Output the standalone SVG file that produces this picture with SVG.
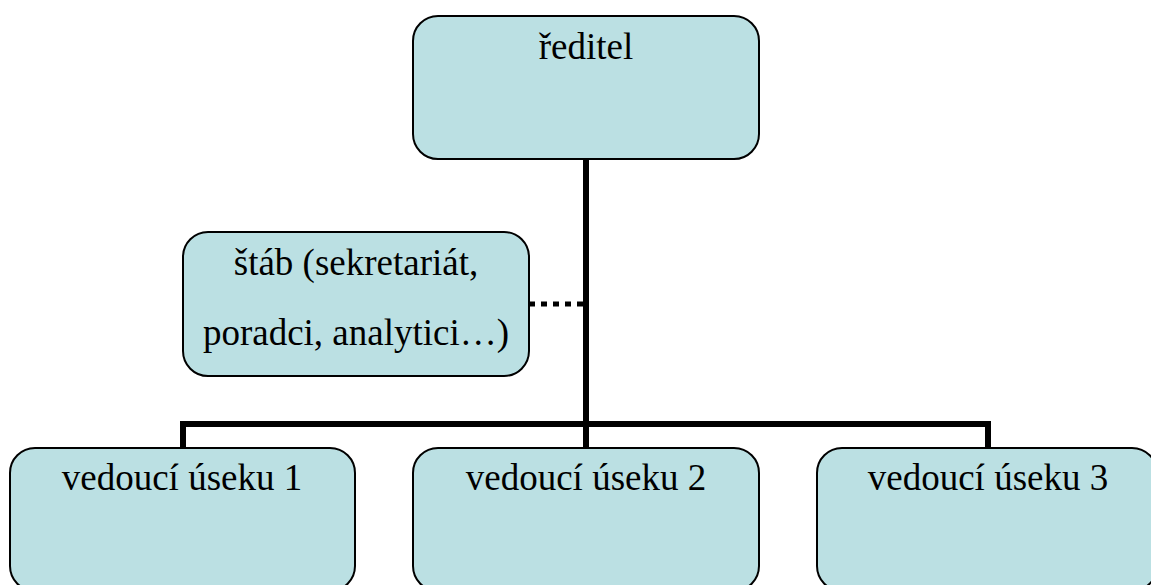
<svg xmlns="http://www.w3.org/2000/svg" width="1151" height="585" viewBox="0 0 1151 585">
<style>
.box{fill:#BBE0E3;stroke:#000;stroke-width:2}
.t{font-size:37px;fill:#000;text-anchor:middle}
.ln{fill:none;stroke:#000;stroke-width:6}
.dot{fill:none;stroke:#000;stroke-width:5;stroke-dasharray:6 6}
</style>
<rect width="1151" height="585" fill="#fff"/>
<g id="connectors">
<line class="ln" x1="586" y1="159" x2="586" y2="448"/>
<polyline class="ln" points="183,448 183,424 988,424 988,448"/>
<line class="dot" x1="529" y1="304" x2="584" y2="304"/>
</g>
<g font-family="'Liberation Serif', 'DejaVu Serif', serif">
<g id="reditel">
<rect class="box" x="413" y="16" width="346" height="143" rx="25"/>
<text class="t" x="586" y="59">ředitel</text>
</g>
<g id="stab">
<rect class="box" x="183" y="232" width="346" height="144" rx="25"/>
<text class="t" x="356" y="275">štáb (sekretariát,</text>
<text class="t" x="356" y="345">poradci, analytici…)</text>
</g>
<g id="vedouci1">
<rect class="box" x="10" y="448" width="345" height="143" rx="25"/>
<text class="t" x="182" y="490">vedoucí úseku 1</text>
</g>
<g id="vedouci2">
<rect class="box" x="413" y="448" width="346" height="143" rx="25"/>
<text class="t" x="586" y="490">vedoucí úseku 2</text>
</g>
<g id="vedouci3">
<rect class="box" x="817" y="448" width="340" height="143" rx="25"/>
<text class="t" x="988" y="490">vedoucí úseku 3</text>
</g>
</g>
</svg>
